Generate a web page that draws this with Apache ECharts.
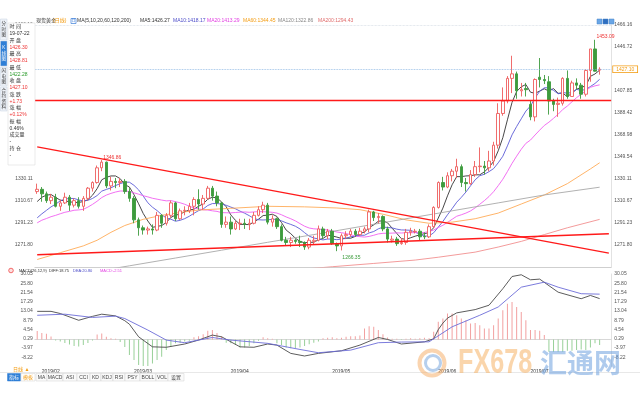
<!DOCTYPE html>
<html><head><meta charset="utf-8">
<script src="https://cdn.jsdelivr.net/npm/echarts/dist/echarts.min.js"></script>
<style>html,body{margin:0;padding:0;background:#fff}#c{width:640px;height:400px}</style>
</head><body><div id="c"></div>
<script>
const dates = [
'2019/01/31',
'2019/02/01','2019/02/04','2019/02/05','2019/02/06','2019/02/07','2019/02/08','2019/02/11','2019/02/12','2019/02/13','2019/02/14','2019/02/15','2019/02/18','2019/02/19','2019/02/20','2019/02/21','2019/02/22','2019/02/25','2019/02/26','2019/02/27','2019/02/28',
'2019/03/01','2019/03/04','2019/03/05','2019/03/06','2019/03/07','2019/03/08','2019/03/11','2019/03/12','2019/03/13','2019/03/14','2019/03/15','2019/03/18','2019/03/19','2019/03/20','2019/03/21','2019/03/22','2019/03/25','2019/03/26','2019/03/27','2019/03/28','2019/03/29',
'2019/04/01','2019/04/02','2019/04/03','2019/04/04','2019/04/05','2019/04/08','2019/04/09','2019/04/10','2019/04/11','2019/04/12','2019/04/15','2019/04/16','2019/04/17','2019/04/18','2019/04/19','2019/04/22','2019/04/23','2019/04/24','2019/04/25','2019/04/26','2019/04/29','2019/04/30',
'2019/05/01','2019/05/02','2019/05/03','2019/05/06','2019/05/07','2019/05/08','2019/05/09','2019/05/10','2019/05/13','2019/05/14','2019/05/15','2019/05/16','2019/05/17','2019/05/20','2019/05/21','2019/05/22','2019/05/23','2019/05/24','2019/05/27','2019/05/28','2019/05/29','2019/05/30','2019/05/31',
'2019/06/03','2019/06/04','2019/06/05','2019/06/06','2019/06/07','2019/06/10','2019/06/11','2019/06/12','2019/06/13','2019/06/14','2019/06/17','2019/06/18','2019/06/19','2019/06/20','2019/06/21','2019/06/24','2019/06/25','2019/06/26','2019/06/27','2019/06/28',
'2019/07/01','2019/07/02','2019/07/03','2019/07/04','2019/07/05','2019/07/08','2019/07/09','2019/07/10','2019/07/11','2019/07/12','2019/07/15','2019/07/16','2019/07/17','2019/07/18','2019/07/19','2019/07/22'
];
const opens = [1319,1321,1317,1311,1314,1306,1309,1314,1307,1311,
1306,1313,1322,1327,1340,1345,1324,1328,1327,1328,
1319,1313,1294,1287,1285,1286,1285,1298,1291,1298,
1309,1295,1302,1302,1306,1312,1308,1313,1322,1315,
1309,1290,1292,1286,1290.5,1291,1290,1291,1298,1303,
1307,1292,1295,1288,1276,1274,1276,1275,1274,1270,
1275,1276,1286,1280,1284,1273,1271,1280,1281,1284,
1281,1284,1286,1301,1296,1297,1286,1276,1277,1273,
1274,1283,1283.5,1284,1279.5,1279,1288,1305,1327,1323,
1333,1337,1341,1327,1326,1334,1341,1341.5,1340,1346,
1360,1388,1399,1419,1423,1408,1410,1396,1385,1420,
1418,1416,1399,1396,1397,1419,1403,1415,1413,1405,
1426,1445,1426.30];
const closes = [1321,1317,1311,1314,1306,1309,1314,1307,1311,1306,
1313,1322,1327,1340,1345,1324,1328,1327,1328,1319,
1313,1294,1287,1285,1286,1285,1298,1291,1298,1309,
1295,1302,1302.5,1306,1312,1308,1313,1322,1315,1309,
1290,1292,1286,1291,1291,1290,1291,1298,1303,1307,
1292,1295,1288,1276,1274,1276,1275,1274,1270,1276,
1276,1286,1280,1284,1273,1271,1280,1281,1284,1281,
1284,1286,1301,1296,1297,1286,1277,1277,1273,1274,
1283,1284,1284,1279,1279,1288,1305,1327,1323,1333,
1337,1341,1327,1326,1334,1341,1341.5,1340,1346,1360,
1388,1399,1419,1423,1408,1409,1409,1385,1418,1418,
1417,1399,1396,1397,1419,1403,1415,1413,1405,1426,
1445,1425.37,1427.10];
const highs = [1326,1323,1319,1317,1317,1312,1318,1316,1313,1314,
1315,1323,1328,1342,1346.86,1345.5,1332,1331,1331,1330,
1322,1315,1296,1289,1288,1290,1301,1299,1300,1311,
1310,1304,1306,1309,1314,1321,1316,1324,1324,1319,
1310,1297,1297,1293,1295,1295,1295,1301,1306,1310,
1309,1298,1296,1290,1279,1279,1277,1280,1275,1278,
1280,1289,1288,1286,1286,1274,1282,1284,1286,1286,
1287,1288,1303,1302,1300,1298,1288,1280,1279,1278,
1286,1287,1286,1286,1283,1290,1306,1328,1332,1336,
1339,1348,1343,1331,1338,1346,1358,1346,1355,1363,
1397,1411,1421,1439,1425,1415,1415,1399,1419,1437,
1422,1421,1401,1402,1420,1426,1417,1419,1415,1427,
1445,1453.09,1428.81];
const lows = [1317,1310,1309,1308,1305,1302,1308,1302,1305,1304,
1302,1311,1319,1326,1337,1322,1320,1322,1323,1317,
1310,1291,1280,1281,1281,1281,1284,1287,1289,1296,
1293,1294,1298,1300,1298,1303,1303,1312,1311,1306,
1287,1287,1281,1285,1285,1286,1285,1290,1297,1300,
1290,1288,1286,1275,1271,1270,1273,1270,1267.5,1268,
1272,1275,1277,1277,1272,1266.35,1267,1277,1279,1279,
1280,1282,1283,1293,1291,1284,1274,1274,1271,1272,
1272,1280,1282,1276,1277,1278,1287,1304,1320,1322,
1328,1331,1323,1319,1325,1332,1336,1334,1337,1342,
1357,1386,1397,1406,1401,1403,1403,1382,1381,1411,
1414,1387,1390,1385,1395,1401,1403,1409,1401,1403,
1416,1425,1422.28];

const ma5 = [1310.2,1314,1315.8,1316.4,1313.8,1311.4,1310.8,1310,1309.4,1309.4,
1310.2,1311.8,1315.8,1321.6,1329.4,1331.6,1332.8,1332.8,1330.4,1325.2,
1323,1316.2,1308.2,1299.6,1293,1287.4,1288.2,1289,1291.6,1296.2,
1298.2,1299,1301.2,1302.8,1303.4,1306,1308.2,1312.2,1314,1313.4,
1309.8,1305.6,1298.4,1293.6,1290,1290,1289.8,1292.2,1294.6,1297.8,
1298.2,1299,1297,1291.6,1285,1281.8,1277.8,1275,1273.8,1274.2,
1274.2,1276.4,1277.6,1280.4,1279.8,1278.8,1277.6,1277.8,1277.8,1279.4,
1282,1283.2,1287.2,1289.6,1292.8,1293.2,1291.4,1286.6,1282,1277.4,
1276.8,1278.2,1279.6,1280.8,1281.8,1282.8,1287,1295.6,1304.4,1315.2,
1325,1332.2,1332.2,1332.8,1333,1333.8,1333.8,1336.4,1340.4,1345.6,
1355,1366.6,1382.4,1397.8,1407.4,1411.6,1413.6,1406.8,1405.8,1407.8,
1409.8,1407.8,1410,1405.8,1406,1402.8,1406,1409.4,1411,1412.4,
1420.8,1422.9,1426.27];
const ma10 = [1295.8,1299.3,1302.4,1305.5,1307.9,1310.8,1312.4,1312.9,1312.9,1311.6,
1310.8,1311.3,1312.9,1315.5,1319.4,1320.9,1322.3,1324.3,1326,1327.3,
1327.3,1324.5,1320.5,1315,1309.1,1305.2,1302.2,1298.6,1295.6,1294.6,
1292.8,1293.6,1295.1,1297.2,1299.8,1302.1,1303.6,1306.7,1308.4,1308.4,
1307.9,1306.9,1305.3,1303.8,1301.7,1299.9,1297.7,1295.3,1294.1,1293.9,
1294.1,1294.4,1294.6,1293.1,1291.4,1290,1288.4,1286,1282.7,1279.6,
1278,1277.1,1276.3,1277.1,1277,1276.5,1277,1277.7,1279.1,1279.6,
1280.4,1280.4,1282.5,1283.7,1286.1,1287.6,1287.3,1286.9,1285.8,1285.1,
1285,1284.8,1283.1,1281.4,1279.6,1279.8,1282.6,1287.6,1292.6,1298.5,
1303.9,1309.6,1313.9,1318.6,1324.1,1329.4,1333,1334.3,1336.6,1339.3,
1344.4,1350.2,1359.4,1369.1,1376.5,1383.3,1390.1,1394.6,1401.8,1407.6,
1410.7,1410.7,1408.4,1405.4,1406.5,1405.9,1406.5,1409.3,1408.4,1409.2,
1411.8,1414.5,1418.17];
const ma20 = [1291.4,1293.7,1295.2,1296.8,1298,1299.4,1300.7,1301.5,1302.5,1302.8,
1303.3,1305.3,1307.7,1310.5,1313.7,1315.9,1317.4,1318.6,1319.5,1319.5,
1319.1,1317.9,1316.7,1315.3,1314.3,1313.1,1312.3,1311.5,1310.8,1311,
1310.1,1309.1,1307.8,1306.1,1304.5,1303.7,1302.9,1302.7,1302,1301.5,
1300.4,1300.3,1300.2,1300.5,1300.8,1301,1300.7,1301,1301.3,1301.2,
1301,1300.7,1300,1298.5,1296.6,1295,1293.1,1290.7,1288.4,1286.8,
1286.1,1285.8,1285.5,1285.1,1284.2,1283.3,1282.7,1281.9,1280.9,1279.6,
1279.2,1278.8,1279.4,1280.4,1281.6,1282.1,1282.2,1282.3,1282.5,1282.4,
1282.7,1282.6,1282.8,1282.6,1282.9,1283.7,1285,1287.3,1289.2,1291.8,
1294.5,1297.2,1298.5,1300,1301.9,1304.6,1307.8,1311,1314.6,1318.9,
1324.2,1329.9,1336.7,1343.9,1350.3,1356.4,1361.6,1364.5,1369,1373.3,
1377.4,1380.3,1383.7,1387.3,1391.5,1394.6,1398.3,1402,1404.9,1408.2,
1411.1,1412.4,1413.29];
// sparse readings [candle index, value]
const ma60 = [[0,1259],[5,1265],[10,1271],[13,1276],[16,1283],[19,1289],[23,1294.5],[27,1298],[31,1300.5],[35,1302.7],[42,1304.2],[50,1306],[58,1305.5],[65,1304.5],[70,1303],[75,1299],[80,1294],[85,1291],[90,1292],[95,1295],[100,1300],[105,1308],[110,1316],[115,1326],[120,1339],[122,1344.45]];
const ma120 = [[15,1250],[20,1253.4],[30,1260.3],[40,1267.2],[50,1274.2],[60,1281],[70,1288],[80,1295],[90,1302],[100,1309],[110,1316],[122,1322.86]];
const ma200 = [[55,1249.5],[64,1252.6],[73,1255.5],[82,1258.5],[87,1261],[95,1265.5],[100,1270],[105,1275],[110,1281],[115,1287],[122,1294.43]];
const trendDown = [[0,1358.5],[124,1264.6]];
const trendUp = [[0,1263.2],[124,1281.7]];
const resistance = 1399.9;

const diff = [[0,12.9],[3,12.9],[5,11.9],[9,8.8],[12,10.6],[14,11.6],[17,10.8],[19,8.6],[20,7.0],[22,1.2],[25,-3.4],[28,-3.6],[32,-2.1],[35,-0.3],[38,2.0],[40,1.2],[44,-3.4],[47,-3.6],[50,-2.1],[52,-2.6],[55,-6.4],[58,-7.6],[61,-6.4],[66,-5.2],[70,-2.6],[74,0.9],[76,0],[79,-2.1],[84,-1.1],[86,0.3],[87,4.5],[88,7.5],[89,9.8],[91,12.2],[95,13.7],[98,15.7],[101,23.3],[103,28.9],[105,29.7],[107,27.4],[109,27.7],[113,21.7],[118,18.7],[120,20.2],[122,18.75]];
const dea = [[0,11.1],[6,11.6],[12,10.1],[17,10.7],[19,9.6],[24,4.3],[28,-0.3],[32,-1.5],[38,0.9],[42,-0.3],[50,-1.8],[57,-4.6],[61,-6.1],[68,-4.9],[74,-1.5],[79,-1.2],[85,-1.1],[90,5.8],[96,11.1],[100,14.9],[105,24],[110,26.3],[113,24],[118,21],[122,20.8]];
const macdHist = [3.9,3.0,2.6,1.4,-0.5,-1.0,-1.6,-2.3,-3.0,-3.2,-2.6,-1.6,-0.5,
2.3,2.7,1.2,0.6,0.3,
-1.2,-3.5,-7.2,-9.4,-11.7,-12.2,-12.2,-11,-9.4,-7.9,-4.9,-3.3,-1.8,-1.5,-1.0,-0.6,
1.0,1.5,2.4,4.0,4.3,3.0,1.5,
-1.5,-1.8,-2.6,-3.7,-3.7,-3.0,-1.8,-0.6,1.0,0.6,0.3,-1.8,-2.6,-3.7,-4.1,-4.1,-3.7,-3.0,-2.2,-1.5,-1.0,
0.5,0.8,1.0,0.5,0.8,1.2,1.5,1.5,1.8,
5.0,6.1,5.8,4.3,2.4,0.9,0.3,
0.3,-0.3,0.3,0.5,0.3,0.6,0.8,0.6,
3.5,8.1,9.6,11.9,11.9,11.1,9.6,8.8,7.3,7.6,6.5,5.0,5.0,6.5,9.6,13.4,16.4,17.2,14.9,12.6,8.8,4.3,4.3,4.0,2.0,
-5.6,-5.6,-5.6,-5.6,-5.2,-5.2,-4.9,-4.6,-4.9,-3.7,-1.8,-2.5];

const priceTicks = ['1271.80','1291.23','1310.67','1330.11','1349.54','1368.98','1388.42','1407.85','1427.28','1446.72','1466.16'];
const macdTicks = ['-8.22','-3.97','0.29','4.54','8.79','13.04','17.29','21.54','25.80','30.05'];

const FONT = '"Liberation Sans","Noto Sans CJK SC",sans-serif';
const N = dates.length;
const cats = dates.concat([' ', '  ']);
const candle = dates.map((d, i) => [opens[i], closes[i], lows[i], highs[i]]);

function tickAxis(labels) {
  const a = parseFloat(labels[0]), b = parseFloat(labels[labels.length - 1]);
  const step = (b - a) / (labels.length - 1);
  return {
    min: +(a - step).toFixed(4), max: b, interval: +step.toFixed(4),
    fmt: v => { const k = Math.round((v - a) / step); return (k >= 0 && k < labels.length && Math.abs(v - (a + k * step)) < 0.01) ? labels[k] : ''; }
  };
}
const pA = tickAxis(priceTicks), mA = tickAxis(macdTicks);

let hiAll = 0, loAll = 0, hiEarly = 0;
highs.forEach((v, i) => { if (v > highs[hiAll]) hiAll = i; if (i < 60 && v > highs[hiEarly]) hiEarly = i; });
lows.forEach((v, i) => { if (v < lows[loAll]) loAll = i; });

const lbl = (color, off) => ({ show: true, position: 'right', distance: 1, offset: off, formatter: p => p.value, color, fontSize: 5, fontFamily: FONT });
const lastClose = closes[N - 1];

function yAx(gi, pos, ax) {
  return { type: 'value', gridIndex: gi, position: pos, min: ax.min, max: ax.max, interval: ax.interval, scale: true,
    axisLine: { show: pos === 'right', lineStyle: { color: '#e2e2e2' } }, axisTick: { show: false }, splitLine: { show: false },
    axisLabel: { formatter: ax.fmt, fontSize: 5, color: '#555', fontFamily: FONT, margin: pos === 'right' ? 3 : 2, hideOverlap: false } };
}
function maLine(data, color, w) {
  return { type: 'line', xAxisIndex: 0, yAxisIndex: 0, data, showSymbol: false, symbol: 'none', smooth: false, silent: true, lineStyle: { color, width: w || 0.9 }, z: 3 };
}
function T(x, y, text, color, size, extra) {
  return Object.assign({ type: 'text', x, y, z: 100, silent: true, style: Object.assign({ text, fill: color, font: (size || 5) + 'px ' + FONT, verticalAlign: 'middle' }, extra || {}) });
}
function R(x, y, w, h, fill, stroke, lw) {
  return { type: 'rect', z: 99, silent: true, shape: { x, y, width: w, height: h }, style: { fill, stroke: stroke || null, lineWidth: lw || 0.5 } };
}

const graphics = [];
// vertical tabs
const tabs = [['分\n时\n图', 19, 21, '#eef2f8', '#333'], ['K\n线\n图', 41, 25, '#2f7fd6', '#fff'], ['闪\n电\n图', 67, 19, '#eef2f8', '#333'], ['合\n约\n资\n料', 87, 24, '#eef2f8', '#333']];
tabs.forEach(t => { graphics.push(R(0.5, t[1], 6.5, t[2], t[3], '#c6d2e2')); graphics.push(T(3.75, t[1] + t[2] / 2, t[0], t[4], 4.5, { align: 'center', lineHeight: 5.5 })); });
// info panel
graphics.push(R(8, 23, 27, 142, '#fff', '#d4d4d4'));
const info = [['时 间', '#333'], ['19-07-22', '#333'], ['开 盘', '#333'], ['1426.30', '#e33'], ['最 高', '#333'], ['1428.81', '#e33'], ['最 低', '#333'], ['1422.28', '#2a9a2a'], ['收 盘', '#333'], ['1427.10', '#e33'], ['涨 跌', '#333'], ['+1.73', '#e33'], ['涨 幅', '#333'], ['+0.12%', '#e33'], ['振 幅', '#333'], ['0.46%', '#333'], ['成交量', '#333'], ['-', '#333'], ['持 仓', '#333'], ['-', '#333']];
info.forEach((r, k) => graphics.push(T(9.5, 27 + k * 6.75, r[0], r[1], 5)));
// title row
const titleParts = [[36, '现货黄金', '#333'], [53, '(日线)', '#f39c12'], [77, 'MA(5,10,20,60,120,200)', '#333'],
  [140, 'MA5:' + ma5[N - 1].toFixed(2), '#333'], [173, 'MA10:' + ma10[N - 1].toFixed(2), '#4b4bc8'], [207, 'MA20:' + ma20[N - 1].toFixed(2), '#e23ee2'],
  [243, 'MA60:' + ma60[ma60.length - 1][1].toFixed(2), '#f39c12'], [278, 'MA120:' + ma120[ma120.length - 1][1].toFixed(2), '#888'], [318, 'MA200:' + ma200[ma200.length - 1][1].toFixed(2), '#e06c6c']];
titleParts.forEach(p => graphics.push(T(p[0], 21, p[1], p[2], 5)));
graphics.push(R(71, 18.5, 5, 5, '#fff', '#3b7dd8', 0.7));
graphics.push(T(73.5, 21, '日', '#3b7dd8', 4, { align: 'center' }));
// top-right buttons
[[597, '#6aa6e6'], [603, '#2f6fc0'], [609, '#6aa6e6']].forEach(b => graphics.push(R(b[0], 19, 5, 5, b[1], '#4a86c8')));
// MACD legend
graphics.push({ type: 'circle', z: 100, silent: true, shape: { cx: 11, cy: 270.5, r: 2.3 }, style: { fill: '#fde0e0', stroke: '#e33', lineWidth: 0.7 } });
graphics.push(T(19, 270.5, 'MACD(26,12,9)', '#333', 4));
graphics.push(T(49, 270.5, 'DIFF:18.75', '#333', 4));
graphics.push(T(73, 270.5, 'DEA:20.80', '#4b4bc8', 4));
graphics.push(T(100, 270.5, 'MACD:-2.51', '#e23ee2', 4));
// bottom area
graphics.push({ type: 'line', z: 98, silent: true, shape: { x1: 0, y1: 372.5, x2: 640, y2: 372.5 }, style: { stroke: '#d8d8d8', lineWidth: 0.6 } });
graphics.push(T(13, 369.5, '日线 ▲', '#f39c12', 5));
graphics.push(R(7.5, 373.5, 13, 7.5, '#2f7fd6', '#2f7fd6'));
graphics.push(T(14, 377.3, '指标', '#fff', 5, { align: 'center' }));
graphics.push(R(21, 373.5, 14, 7.5, '#fff', '#d0d0d0'));
graphics.push(T(28, 377.3, '模板', '#f39c12', 5, { align: 'center' }));
const tools = [['MA', 36, 11], ['MACD', 47, 16], ['ASI', 63, 14], ['CCI', 77, 13], ['KD', 90, 11], ['KDJ', 101, 12], ['RSI', 113, 12], ['PSY', 125, 15], ['BOLL', 140, 16], ['VOL', 156, 12], ['设置', 168, 16]];
tools.forEach(t => { graphics.push(R(t[1], 373.5, t[2], 7.5, '#fafafa', '#d0d0d0')); graphics.push(T(t[1] + t[2] / 2, 377.3, t[0], '#444', 5, { align: 'center' })); });
// watermark
graphics.push({ type: 'ring', z: 101, silent: true, shape: { cx: 432, cy: 363, r: 14.5, r0: 10.5 }, style: { fill: 'rgba(246,170,95,0.5)' } });
graphics.push({ type: 'ring', z: 101, silent: true, shape: { cx: 433, cy: 363, r: 9, r0: 6 }, style: { fill: 'rgba(110,160,220,0.5)' } });
graphics.push({ type: 'text', z: 101, silent: true, x: 458, y: 363, scaleX: 0.72, style: { text: 'FX678', fill: 'rgba(246,178,102,0.55)', font: 'bold 35px "Liberation Sans",sans-serif', verticalAlign: 'middle' } });
graphics.push({ type: 'text', z: 101, silent: true, x: 540, y: 363, style: { text: '汇通网', fill: 'rgba(110,160,222,0.55)', font: 'bold 27px "Noto Sans CJK SC",sans-serif', verticalAlign: 'middle' } });

const isMonthStart = i => i > 0 && i < N && dates[i].slice(0, 7) !== dates[i - 1].slice(0, 7);

const option = {
  animation: false,
  backgroundColor: '#fff',
  textStyle: { fontFamily: FONT },
  grid: [
    { left: 34.9, top: 25, width: 576.25, height: 242, outerBoundsMode: 'none', containLabel: false },
    { left: 34.9, top: 274, width: 576.25, height: 92.6, outerBoundsMode: 'none', containLabel: false }
  ],
  xAxis: [
    { type: 'category', gridIndex: 0, data: cats, boundaryGap: true, axisLine: { lineStyle: { color: '#cfcfcf' } }, axisTick: { show: false }, axisLabel: { show: false }, splitLine: { show: false } },
    { type: 'category', gridIndex: 1, data: cats, boundaryGap: true, axisLine: { lineStyle: { color: '#d8d8d8' } }, axisTick: { show: false }, splitLine: { show: false },
      axisLabel: { interval: (i) => isMonthStart(i), formatter: (v, i) => isMonthStart(i) ? v.slice(0, 7) : '', align: 'left', fontSize: 5, color: '#333', fontFamily: FONT, margin: 2.5, hideOverlap: false } }
  ],
  yAxis: [yAx(0, 'right', pA), yAx(0, 'left', pA), yAx(1, 'right', mA), yAx(1, 'left', mA)],
  series: [
    { type: 'candlestick', xAxisIndex: 0, yAxisIndex: 0, data: candle, barWidth: 3, z: 4,
      itemStyle: { color: '#ffffff', color0: '#3d9b3d', borderColor: '#ee5c5c', borderColor0: '#3d9b3d', borderWidth: 0.9 },
      markLine: { silent: true, symbol: ['none', 'none'], animation: false,
        data: [
          { yAxis: resistance, lineStyle: { color: '#ff1a1a', width: 1.4, type: 'solid' }, label: { show: false } },
          { yAxis: pA.max, lineStyle: { color: '#cdd6e0', width: 0.7, type: 'dotted' }, label: { show: false } },
          { yAxis: lastClose, lineStyle: { color: '#86b4e2', width: 0.8, type: 'dotted' },
            label: { show: true, position: 'end', distance: 2, formatter: lastClose.toFixed(2), color: '#f39c12', fontSize: 5, fontFamily: FONT, backgroundColor: '#fff', borderColor: '#f39c12', borderWidth: 0.8, padding: [1, 3, 0, 3] } }
        ] },
      markPoint: { symbol: 'circle', symbolSize: 1, itemStyle: { color: 'rgba(0,0,0,0)' }, silent: true, animation: false,
        data: [
          { coord: [hiEarly, highs[hiEarly]], value: highs[hiEarly].toFixed(2), label: lbl('#e33', [0, -2]) },
          { coord: [hiAll, highs[hiAll]], value: highs[hiAll].toFixed(2), label: lbl('#e33', [0, -3]) },
          { coord: [loAll, lows[loAll]], value: lows[loAll].toFixed(2), label: lbl('#3a9a3a', [4, 6]) }
        ] } },
    maLine(ma5, '#333333'), maLine(ma10, '#5b5bd6'), maLine(ma20, '#f060f0'), maLine(ma60, '#ffab58'), maLine(ma120, '#a8a8a8'), maLine(ma200, '#f29090'),
    { type: 'line', xAxisIndex: 0, yAxisIndex: 0, data: trendDown, showSymbol: false, symbol: 'none', silent: true, lineStyle: { color: '#ff1a1a', width: 1.4 }, z: 5 },
    { type: 'line', xAxisIndex: 0, yAxisIndex: 0, data: trendUp, showSymbol: false, symbol: 'none', silent: true, lineStyle: { color: '#ff1a1a', width: 1.4 }, z: 5 },
    { type: 'bar', xAxisIndex: 1, yAxisIndex: 2, data: macdHist, barWidth: 1, silent: true,
      itemStyle: { color: p => p.value >= 0 ? '#f2a0a0' : '#98d098' } },
    { type: 'line', xAxisIndex: 1, yAxisIndex: 2, data: diff, showSymbol: false, symbol: 'none', silent: true, lineStyle: { color: '#4a4a4a', width: 0.9 } },
    { type: 'line', xAxisIndex: 1, yAxisIndex: 2, data: dea, showSymbol: false, symbol: 'none', silent: true, lineStyle: { color: '#6c6cd8', width: 0.9 } }
  ],
  graphic: { elements: graphics }
};
const chart = echarts.init(document.getElementById('c'), null, { renderer: 'canvas', width: 640, height: 400 });
chart.setOption(option);
</script>
</body></html>
